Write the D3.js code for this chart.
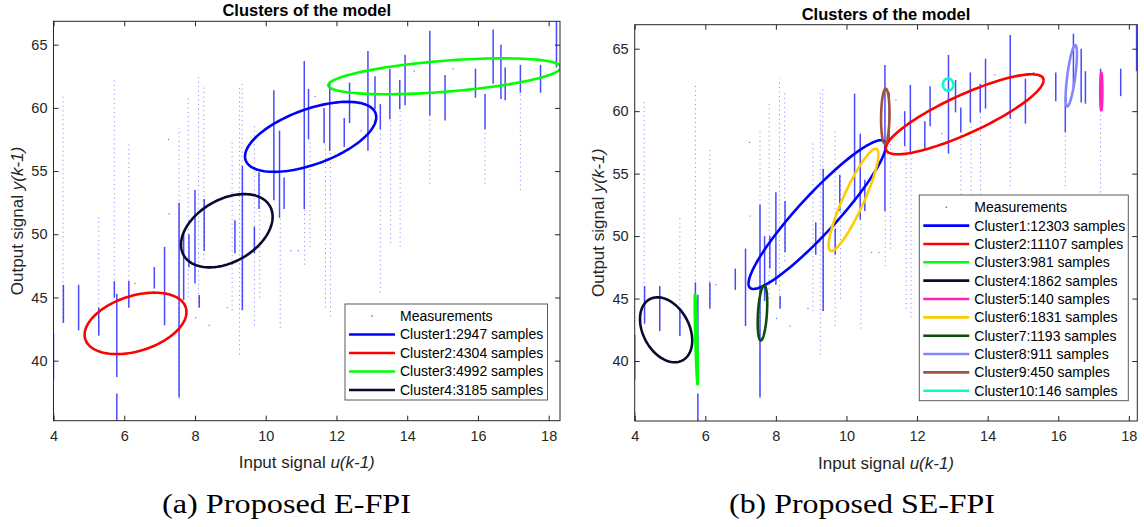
<!DOCTYPE html>
<html>
<head>
<meta charset="utf-8">
<script src="https://cdn.jsdelivr.net/npm/d3@7"></script>
<style>
  body { margin: 0; background: #fff; }
  svg { display: block; }
</style>
</head>
<body>
<svg id="chart" width="1144" height="527"></svg>
<script>
// ---- Measurements: each strip is an input level u and the output range it covers ----
// dense strips [u, yLow, yHigh]
const denseStrips = [
  [4.00, 38.5, 42.1], [4.00, 35.2, 35.9], [4.28, 43.0, 46.0], [4.71, 42.4, 46.0],
  [5.28, 42.0, 44.2], [5.72, 45.0, 46.3], [5.79, 38.7, 45.3], [5.79, 35.2, 37.4],
  [6.13, 44.2, 46.3], [6.85, 45.7, 47.4], [7.14, 42.8, 49.0], [7.55, 37.1, 52.5],
  [7.68, 44.8, 50.0], [7.83, 47.4, 50.0], [8.00, 46.1, 53.5], [8.12, 44.2, 45.2],
  [8.26, 48.7, 52.8], [9.13, 48.5, 51.1], [9.34, 44.0, 55.4], [9.68, 48.5, 50.6],
  [9.81, 52.0, 54.9], [10.23, 52.7, 61.4], [10.39, 51.3, 58.2], [10.52, 52.0, 54.5],
  [11.09, 52.0, 63.7], [11.21, 57.5, 61.5], [11.65, 57.2, 60.0], [11.81, 56.6, 62.1],
  [12.22, 56.9, 59.2], [12.37, 58.8, 62.0], [12.89, 56.6, 64.5], [13.09, 59.9, 62.5],
  [13.24, 58.3, 60.3], [13.51, 59.1, 63.1], [13.79, 59.9, 62.2], [13.94, 60.2, 64.2],
  [14.64, 59.4, 66.1], [15.07, 59.0, 62.6], [15.93, 60.8, 63.1], [16.20, 58.3, 61.1],
  [16.43, 61.9, 66.2], [16.65, 60.7, 65.0], [16.77, 60.6, 63.2], [17.20, 61.2, 63.4],
  [17.77, 61.2, 63.4], [18.22, 63.2, 66.9]
];
// sparse strips [u, yLow, yHigh]
const sparseStrips = [
  [4.27, 43.0, 61.0], [5.28, 42.0, 51.5], [5.72, 45.0, 62.3], [6.13, 44.2, 57.1],
  [7.55, 37.0, 58.4], [7.81, 45.0, 60.8], [8.10, 44.2, 62.6], [8.25, 48.0, 61.6],
  [9.05, 44.0, 57.5], [9.26, 40.5, 61.7], [9.33, 44.0, 61.9], [9.68, 42.8, 58.6],
  [9.83, 45.0, 55.0], [10.41, 42.6, 51.3], [11.10, 47.6, 52.0], [11.25, 49.0, 57.5],
  [11.69, 44.2, 57.2], [11.83, 43.5, 56.6], [13.24, 45.4, 58.3], [13.53, 49.3, 59.1],
  [13.80, 49.0, 59.9], [14.64, 54.0, 59.4], [16.20, 54.0, 58.3], [17.20, 53.5, 61.2]
];
// isolated samples [u, y]
const loosePoints = [
  [7.27, 51.6], [8.40, 42.8], [8.91, 44.2], [8.02, 43.4], [10.71, 48.7], [10.92, 48.7],
  [7.25, 57.5], [6.30, 46.1], [14.20, 62.9], [15.30, 63.1], [12.70, 58.2], [11.40, 60.9]
];

const xTicks = [4, 6, 8, 10, 12, 14, 16, 18];
const yTicks = [40, 45, 50, 55, 60, 65];

// ---- Clusters found by E-FPI ----
const efpiLabels = ["Cluster1:2947 samples", "Cluster2:4304 samples",
                    "Cluster3:4992 samples", "Cluster4:3185 samples"];
const efpiColors = ["#0000ff", "#ff0000", "#00ff00", "#0a0a30"];
const efpiCx  = [11.27, 6.32, 15.06, 8.90];
const efpiCy  = [57.71, 42.95, 62.50, 50.28];
const efpiRx  = [1.855, 1.44, 3.29, 1.295];
const efpiRy  = [2.77, 2.43, 1.42, 2.90];
const efpiRho = [0.56, 0.37, 0.50, 0.38];

// ---- Clusters found by SE-FPI ----
const sefpiLabels = ["Cluster1:12303 samples", "Cluster2:11107 samples", "Cluster3:981 samples",
                     "Cluster4:1862 samples", "Cluster5:140 samples", "Cluster6:1831 samples",
                     "Cluster7:1193 samples", "Cluster8:911 samples", "Cluster9:450 samples",
                     "Cluster10:146 samples"];
const sefpiColors = ["#0000ff", "#ff0000", "#00ff00", "#0a0a30", "#ff22bb",
                     "#ffcc00", "#0b4d0b", "#8585ff", "#a0523f", "#00ffcc"];
const sefpiCx  = [9.17, 13.35, 5.745, 4.89, 17.22, 10.20, 7.62, 16.37, 11.10, 12.88];
const sefpiCy  = [51.72, 59.75, 41.73, 42.50, 61.57, 52.90, 43.85, 62.83, 59.60, 62.13];
const sefpiRx  = [1.945, 2.235, 0.045, 0.74, 0.03, 0.705, 0.135, 0.16, 0.12, 0.145];
const sefpiRy  = [5.95, 3.20, 3.60, 2.60, 1.50, 4.09, 2.20, 2.45, 2.20, 0.49];
const sefpiRho = [0.928, 0.85, -0.80, -0.33, 0.0, 0.89, 0.35, 0.70, 0.10, 0.0];

const svg = d3.select("#chart");
const axisColor = "#262626";
const sans = "'Liberation Sans', Arial, Helvetica, sans-serif";

const panels = [
  { key: "a", left: 53.5, right: 560, top: 21.3, bottom: 420.7, yDomain: [35.25, 66.85], xMax: 18.32,
    caption: "(a) Proposed E-FPI", capX: 286.5, capW: 249,
    labels: efpiLabels, colors: efpiColors, cx: efpiCx, cy: efpiCy, rx: efpiRx, ry: efpiRy, rho: efpiRho,
    legend: { x: 345, y: 304, w: 202.5, h: 96, row0: 12, step: 18.5 } },
  { key: "b", left: 634.7, right: 1137.3, top: 24.7, bottom: 421, yDomain: [35.2, 66.92], xMax: 18.24,
    caption: "(b) Proposed SE-FPI", capX: 862, capW: 266,
    labels: sefpiLabels, colors: sefpiColors, cx: sefpiCx, cy: sefpiCy, rx: sefpiRx, ry: sefpiRy, rho: sefpiRho,
    legend: { x: 919.3, y: 195, w: 209, h: 205.7, row0: 12.3, step: 18.34 } }
];

const tSteps = d3.range(0, 121).map(i => i / 120 * 2 * Math.PI);

panels.forEach(p => {
  const x = d3.scaleLinear().domain([4, p.xMax]).range([p.left, p.right]);
  const y = d3.scaleLinear().domain(p.yDomain).range([p.bottom, p.top]);
  const g = svg.append("g");

  const clipId = "clip-" + p.key;
  svg.append("clipPath").attr("id", clipId).append("rect")
    .attr("x", p.left).attr("y", p.top)
    .attr("width", p.right - p.left).attr("height", p.bottom - p.top);

  const plot = g.append("g").attr("clip-path", `url(#${clipId})`);

  // measurement strips
  plot.append("g").selectAll("line").data(sparseStrips).join("line")
    .attr("x1", d => x(d[0])).attr("x2", d => x(d[0]))
    .attr("y1", d => y(d[1])).attr("y2", d => y(d[2]))
    .attr("stroke", "#4a4aff").attr("stroke-width", 1.0)
    .attr("stroke-dasharray", "1 3.5").attr("opacity", 0.7);
  plot.append("g").selectAll("line").data(denseStrips).join("line")
    .attr("x1", d => x(d[0])).attr("x2", d => x(d[0]))
    .attr("y1", d => y(d[1])).attr("y2", d => y(d[2]))
    .attr("stroke", "#2a2aff").attr("stroke-width", 1.5).attr("opacity", 0.85);
  plot.append("g").selectAll("circle").data(loosePoints).join("circle")
    .attr("cx", d => x(d[0])).attr("cy", d => y(d[1])).attr("r", 0.7)
    .attr("fill", "#4a4aff").attr("opacity", 0.8);

  // cluster ellipses
  const line = d3.line().x(d => x(d[0])).y(d => y(d[1]));
  p.cx.forEach((c, i) => {
    const s = Math.sqrt(1 - p.rho[i] * p.rho[i]);
    const pts = tSteps.map(t => [
      c + p.rx[i] * Math.cos(t),
      p.cy[i] + p.ry[i] * (p.rho[i] * Math.cos(t) + s * Math.sin(t))
    ]);
    plot.append("path").attr("d", line(pts))
      .attr("fill", "none").attr("stroke", p.colors[i])
      .attr("stroke-width", 2.6).attr("stroke-linejoin", "round");
  });

  // axes frame with inward ticks on all sides
  g.append("rect").attr("x", p.left).attr("y", p.top)
    .attr("width", p.right - p.left).attr("height", p.bottom - p.top)
    .attr("fill", "none").attr("stroke", axisColor).attr("stroke-width", 1);

  const tl = 5;
  const xb = g.append("g").attr("transform", `translate(0,${p.bottom})`)
    .call(d3.axisBottom(x).tickValues(xTicks).tickSizeInner(-tl).tickSizeOuter(0).tickPadding(10));
  const xt = g.append("g").attr("transform", `translate(0,${p.top})`)
    .call(d3.axisTop(x).tickValues(xTicks).tickSizeInner(-tl).tickSizeOuter(0).tickFormat(""));
  const yl = g.append("g").attr("transform", `translate(${p.left},0)`)
    .call(d3.axisLeft(y).tickValues(yTicks).tickSizeInner(-tl).tickSizeOuter(0).tickPadding(6));
  const yr = g.append("g").attr("transform", `translate(${p.right},0)`)
    .call(d3.axisRight(y).tickValues(yTicks).tickSizeInner(-tl).tickSizeOuter(0).tickFormat(""));
  [xb, xt, yl, yr].forEach(a => {
    a.select(".domain").remove();
    a.selectAll(".tick line").attr("stroke", axisColor);
    a.selectAll(".tick text").attr("fill", axisColor)
      .style("font-family", sans).style("font-size", "14.5px");
  });

  const midX = (p.left + p.right) / 2;
  const midY = (p.top + p.bottom) / 2;

  // title
  g.append("text").attr("x", midX).attr("y", p.top - 5)
    .attr("text-anchor", "middle").style("font-family", sans)
    .style("font-size", "16.5px").style("font-weight", "bold").attr("fill", "#000")
    .text("Clusters of the model");

  // axis labels
  const xl = g.append("text").attr("x", midX).attr("y", p.bottom + 47.5)
    .attr("text-anchor", "middle").style("font-family", sans).style("font-size", "17px")
    .attr("fill", axisColor);
  xl.append("tspan").text("Input signal ");
  xl.append("tspan").style("font-style", "italic").text("u(k-1)");

  const ylab = g.append("text")
    .attr("transform", `translate(${p.left - 31},${midY}) rotate(-90)`)
    .attr("text-anchor", "middle").style("font-family", sans).style("font-size", "17px")
    .attr("fill", axisColor);
  ylab.append("tspan").text("Output signal ");
  ylab.append("tspan").style("font-style", "italic").text("y(k-1)");

  // legend
  const L = p.legend;
  const lg = g.append("g");
  lg.append("rect").attr("x", L.x).attr("y", L.y).attr("width", L.w).attr("height", L.h)
    .attr("fill", "#fff").attr("stroke", "#5a5a5a").attr("stroke-width", 1);
  const lx0 = L.x + 4, lx1 = L.x + 50, tx = L.x + 55;
  lg.append("circle").attr("cx", (lx0 + lx1) / 2).attr("cy", L.y + L.row0)
    .attr("r", 0.8).attr("fill", "#4a4aff");
  lg.append("text").attr("x", tx).attr("y", L.y + L.row0).attr("dy", "0.35em")
    .style("font-family", sans).style("font-size", "14px").attr("fill", "#000")
    .text("Measurements");
  p.labels.forEach((lab, i) => {
    const yy = L.y + L.row0 + (i + 1) * L.step;
    lg.append("line").attr("x1", lx0).attr("x2", lx1).attr("y1", yy).attr("y2", yy)
      .attr("stroke", p.colors[i]).attr("stroke-width", 2.6);
    lg.append("text").attr("x", tx).attr("y", yy).attr("dy", "0.35em")
      .style("font-family", sans).style("font-size", "14px").attr("fill", "#000")
      .text(lab);
  });

  // caption
  g.append("text").attr("x", p.capX - p.capW / 2).attr("y", 513)
    .attr("textLength", p.capW).attr("lengthAdjust", "spacingAndGlyphs")
    .style("font-family", "'Liberation Serif', 'Times New Roman', serif").style("font-size", "28px")
    .attr("fill", "#000").text(p.caption);
});
</script>
</body>
</html>
